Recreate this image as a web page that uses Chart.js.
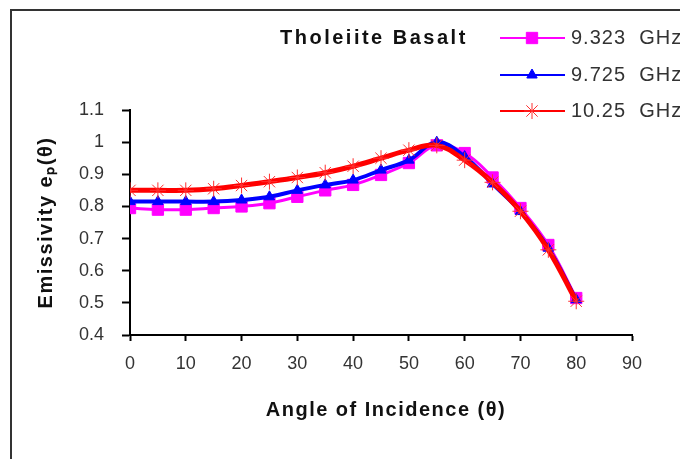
<!DOCTYPE html>
<html>
<head>
<meta charset="utf-8">
<script src="https://cdn.jsdelivr.net/npm/chart.js@4"></script>
<style>
  html, body { margin: 0; padding: 0; background: #fff; }
  #wrap { width: 680px; height: 459px; position: relative; }
</style>
</head>
<body>
<div id="wrap"><canvas id="myChart" width="680" height="459"></canvas></div>
<script>
const angles = [0, 5, 10, 15, 20, 25, 30, 35, 40, 45, 50, 55, 60, 65, 70, 75, 80];
const ghz9323 = [0.795, 0.79, 0.79, 0.795, 0.80, 0.81, 0.83, 0.85, 0.867, 0.898, 0.935, 0.99, 0.966, 0.89, 0.795, 0.68, 0.515];
const ghz9725 = [0.815, 0.815, 0.815, 0.815, 0.82, 0.83, 0.85, 0.867, 0.882, 0.913, 0.944, 1.0, 0.955, 0.87, 0.784, 0.67, 0.51];
const ghz1025 = [0.85, 0.85, 0.85, 0.855, 0.865, 0.877, 0.89, 0.905, 0.925, 0.95, 0.975, 0.99, 0.944, 0.875, 0.785, 0.665, 0.505];
const seriesNames = ['9.323  GHz', '9.725  GHz', '10.25  GHz'];
const chartTitle = 'Tholeiite Basalt';
const xTitle = 'Angle of Incidence (\u03b8)';
const yTitle = 'Emissivity e\u209a(\u03b8)';

function pts(vals) {
  return angles.map((a, i) => ({x: a, y: vals[i]}));
}

const font = "'Liberation Sans', Arial, sans-serif";

// frame, legend and axis titles drawn by hand, the original is spaced out oddly
const decor = {
  id: 'decor',
  afterDraw(chart) {
    const ctx = chart.ctx;
    const area = chart.chartArea;
    ctx.save();
    ctx.strokeStyle = '#333';
    ctx.lineWidth = 2;
    ctx.beginPath();
    ctx.moveTo(11, 459);
    ctx.lineTo(11, 10);
    ctx.lineTo(680, 10);
    ctx.stroke();

    ctx.fillStyle = '#111';
    ctx.textBaseline = 'middle';
    ctx.textAlign = 'left';
    ctx.font = 'bold 20px ' + font;
    ctx.letterSpacing = '2.5px';
    ctx.fillText(chartTitle, 280, 38);

    ctx.letterSpacing = '1.5px';
    ctx.textAlign = 'center';
    ctx.fillText(xTitle, 386, 410);
    ctx.save();
    ctx.translate(46, (area.top + area.bottom) / 2);
    ctx.rotate(-Math.PI / 2);
    ctx.fillText(yTitle, 0, 0);
    ctx.restore();

    ctx.textAlign = 'left';
    ctx.letterSpacing = '1px';
    const rows = [38, 75, 111];
    chart.data.datasets.forEach((ds, i) => {
      const y = rows[i];
      ctx.strokeStyle = ds.borderColor;
      ctx.lineWidth = 2;
      ctx.beginPath();
      ctx.moveTo(500, y);
      ctx.lineTo(565, y);
      ctx.stroke();
      ctx.fillStyle = ds.pointBackgroundColor;
      ctx.strokeStyle = ds.pointBorderColor;
      ctx.lineWidth = ds.pointBorderWidth;
      Chart.helpers.drawPoint(ctx, {pointStyle: ds.pointStyle, radius: ds.pointRadius, rotation: 0, borderWidth: ds.pointBorderWidth}, 532, y);
      ctx.fillStyle = '#333';
      ctx.font = '20px ' + font;
      ctx.fillText(ds.label, 571, y);
    });
    ctx.restore();
  }
};

const data = {
  datasets: [{
    label: seriesNames[0],
    data: pts(ghz9323),
    borderColor: '#ff00ff',
    backgroundColor: '#ff00ff',
    pointBackgroundColor: '#ff00ff',
    pointBorderColor: '#ff00ff',
    pointBorderWidth: 1,
    borderWidth: 3,
    pointStyle: 'rect',
    pointRadius: 8,
    tension: 0.4,
    order: 3
  }, {
    label: seriesNames[1],
    data: pts(ghz9725),
    borderColor: '#0000ff',
    backgroundColor: '#0000ff',
    pointBackgroundColor: '#0000ff',
    pointBorderColor: '#0000ff',
    pointBorderWidth: 1,
    borderWidth: 4,
    pointStyle: 'triangle',
    pointRadius: 6,
    tension: 0.4,
    order: 2
  }, {
    label: seriesNames[2],
    data: pts(ghz1025),
    borderColor: '#ff0000',
    backgroundColor: '#ff0000',
    pointBackgroundColor: '#ff0000',
    pointBorderColor: '#ff3030',
    pointBorderWidth: 1,
    borderWidth: 5,
    pointStyle: 'star',
    pointRadius: 8,
    tension: 0.4,
    order: 1
  }]
};

const config = {
  type: 'line',
  data: data,
  options: {
    responsive: false,
    animation: false,
    layout: {padding: {top: 110, right: 48, left: 0, bottom: 0}},
    plugins: {legend: {display: false}, tooltip: {enabled: false}},
    scales: {
      x: {
        type: 'linear',
        min: 0, max: 90,
        ticks: {stepSize: 10, color: '#333', font: {family: font, size: 18}, padding: 12},
        grid: {display: true, drawOnChartArea: false, drawTicks: true, tickLength: 6, tickColor: '#000', tickWidth: 2},
        border: {color: '#000', width: 2},
        afterFit(scale) { scale.height = 124; }
      },
      y: {
        min: 0.4, max: 1.1,
        ticks: {stepSize: 0.1, color: '#333', font: {family: font, size: 18}, padding: 18,
          callback: v => +v.toFixed(1)},
        grid: {display: true, drawOnChartArea: false, drawTicks: true, tickLength: 8, tickColor: '#000', tickWidth: 2},
        border: {color: '#000', width: 2},
        afterFit(scale) { scale.width = 130; }
      }
    }
  },
  plugins: [decor]
};

const myChart = new Chart(document.getElementById('myChart'), config);
</script>
</body>
</html>
